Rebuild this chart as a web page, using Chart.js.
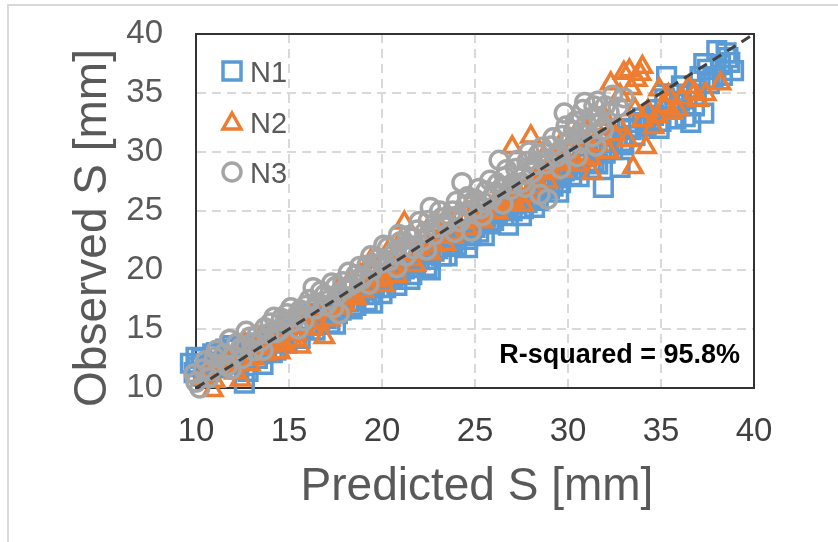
<!DOCTYPE html>
<html><head><meta charset="utf-8">
<script src="https://cdn.jsdelivr.net/npm/chart.js@4.4.0/dist/chart.umd.min.js"></script>
<style>html,body{margin:0;padding:0;background:#fff;overflow:hidden}</style>
</head><body>
<canvas id="c" width="838" height="542"></canvas>
<script>
const seriesNames = ['N1', 'N2', 'N3'];
const axisMin = 10, axisMax = 40, tickStep = 5;
const xTitle = 'Predicted S [mm]';
const yTitle = 'Observed S [mm]';
const rSquaredLabel = 'R-squared = 95.8%';
const referenceLine = [[10, 10], [40, 40]];

const n1Points = [[9.7,12.1],[9.9,11.3],[10.1,11.8],[10.3,12.5],[10.6,11.4],[10.9,12.9],[11.2,12.2],[11.6,13.3],[12.0,12.6],[12.3,11.6],[12.6,10.4],[12.9,13.4],[13.3,12.5],[13.6,12.0],[13.9,14.4],[14.3,13.2],[14.7,14.0],[15.1,15.7],[15.4,14.3],[15.8,15.0],[16.2,16.3],[16.6,15.4],[17.0,15.9],[17.4,16.9],[17.8,16.6],[18.2,17.3],[18.6,17.0],[19.0,18.3],[19.4,17.9],[19.8,19.1],[20.2,18.5],[20.6,19.5],[21.0,19.9],[21.4,20.5],[21.8,20.2],[22.2,21.3],[22.6,20.9],[23.0,21.8],[23.4,22.4],[23.8,22.0],[24.2,23.0],[24.6,22.6],[25.0,23.6],[25.4,24.2],[25.8,23.9],[26.2,24.8],[26.6,25.3],[27.0,25.0],[27.4,26.0],[27.8,25.7],[28.2,26.6],[28.6,27.2],[29.0,26.9],[29.4,27.8],[29.8,28.4],[30.2,28.0],[30.6,29.0],[31.0,29.6],[31.4,29.2],[31.9,27.0],[31.8,30.2],[32.2,30.8],[32.8,28.7],[32.6,31.3],[33.0,30.6],[33.4,31.9],[33.8,32.5],[34.2,32.2],[34.6,33.1],[35.0,32.6],[35.3,36.4],[35.5,33.7],[36.0,34.3],[36.3,33.0],[36.6,32.5],[36.9,35.3],[37.3,33.3],[37.3,37.5],[37.6,35.8],[38.0,38.6],[38.3,36.5],[38.5,38.4],[38.9,36.9],[38.7,37.6],
[10.0,12.6],[10.4,11.0],[10.8,11.9],[11.1,13.0],[11.4,11.7],[11.9,13.6],[12.2,12.1],[12.5,13.5],[12.8,11.4],[13.1,13.8],[13.5,12.9],[13.8,13.4],[14.1,13.0],[14.5,14.8],[14.9,13.8],[15.2,14.9],[15.6,14.2],[16.0,15.4],[16.4,14.9],[16.8,16.2],[17.2,15.5],[17.6,16.3],[18.0,17.5],[18.4,16.7],[18.8,18.0],[19.2,17.4],[19.6,18.5],[20.0,18.0],[20.4,19.2],[20.8,18.7],[21.2,20.1],[21.6,19.6],[22.0,20.9],[22.4,20.3],[22.8,21.6],[23.2,21.2],[23.6,22.7],[24.0,22.1],[24.4,23.3],[24.8,22.9],[25.2,23.2],[25.6,24.5],[26.0,24.2],[26.4,25.1],[26.8,24.6],[27.2,25.6],[27.6,25.2],[28.0,26.1],[28.4,25.9],[28.8,27.5],[29.2,27.1],[29.6,27.4],[30.0,28.7],[30.4,28.5],[30.8,29.8],[31.2,28.6],[31.6,29.0],[32.0,29.9],[32.4,30.2],[32.9,30.9],[33.2,32.0],[33.6,31.4],[34.0,32.9],[34.4,32.7],[34.8,33.6],[35.2,34.5],[35.7,34.9],[36.1,35.6],[36.4,34.8],[36.8,33.9],[37.1,36.4],[37.5,37.0],[37.8,36.2],[38.2,37.4],[38.6,38.0],[35.8,32.8],[34.9,32.0],
[17.5,15.4],[19.5,17.2],[21.5,19.2],[22.6,20.0],[23.5,21.2],[24.6,21.9],[25.5,22.9],[26.8,23.8],[27.5,24.6],[28.2,25.3],[29.5,26.6],[30.6,27.9]];

const n2Points = [[10.3,10.8],[10.9,9.8],[11.3,11.6],[11.8,12.4],[12.4,10.7],[12.6,13.8],[13.1,12.5],[13.5,14.3],[14.0,13.6],[14.5,13.0],[14.9,15.4],[15.4,14.6],[15.6,13.5],[16.1,16.3],[16.6,15.5],[16.9,14.3],[17.4,17.0],[17.8,16.8],[18.2,18.9],[18.6,17.6],[19.0,18.2],[19.4,20.8],[19.7,19.1],[20.1,18.7],[20.5,20.6],[20.8,19.5],[21.2,24.0],[21.4,21.3],[21.8,20.4],[22.2,22.6],[22.6,21.4],[23.0,23.8],[23.4,22.2],[23.8,22.8],[24.2,24.6],[24.6,23.5],[25.0,25.2],[25.4,24.1],[25.8,26.4],[26.2,24.9],[26.6,26.0],[27.0,30.4],[27.1,25.8],[27.4,28.0],[27.8,26.3],[28.0,31.3],[28.3,27.6],[28.7,29.6],[29.1,28.2],[29.5,30.4],[29.9,29.0],[30.3,31.2],[30.7,29.6],[31.0,31.8],[31.3,28.2],[31.6,30.6],[32.0,32.8],[32.3,35.8],[32.5,31.5],[33.0,36.7],[33.3,36.9],[33.5,28.7],[33.7,36.1],[34.0,37.2],[34.0,32.7],[34.2,30.4],[34.6,32.1],[34.9,35.3],[35.2,33.9],[35.6,33.3],[36.1,34.6],[36.5,35.5],[37.0,34.4],[37.4,34.9],[38.2,35.8],
[10.6,11.3],[11.0,10.6],[11.6,12.0],[12.1,11.3],[12.9,12.0],[13.3,13.4],[13.8,12.9],[14.3,14.1],[14.7,13.7],[15.2,14.0],[15.8,15.2],[16.3,15.0],[16.8,16.5],[17.2,15.8],[17.6,18.3],[18.0,17.1],[18.4,17.9],[18.8,19.6],[19.2,18.6],[19.6,19.8],[20.0,19.3],[20.3,21.5],[20.7,20.1],[21.0,22.4],[21.6,20.9],[22.0,21.8],[22.4,23.3],[22.8,22.1],[23.2,22.9],[23.6,24.4],[24.0,23.1],[24.4,24.0],[24.8,25.8],[25.2,24.6],[25.6,25.0],[26.0,25.5],[26.4,27.1],[26.8,25.6],[27.2,26.9],[27.6,25.5],[28.1,27.0],[28.5,28.3],[28.9,27.5],[29.3,29.3],[29.7,28.4],[30.1,30.1],[30.5,28.9],[30.9,30.6],[31.2,29.5],[31.8,31.2],[32.2,30.0],[32.7,32.3],[33.2,31.0],[33.6,33.6],[34.3,33.5],[34.8,33.0],[35.4,34.8],[35.9,33.6],[36.8,35.0],[33.4,35.4],[32.8,34.8],[33.9,36.6]];

const n3Points = [[9.9,11.2],[10.0,10.5],[10.2,10.0],[10.4,11.6],[10.7,10.9],[11.1,13.2],[11.3,12.0],[11.8,14.1],[12.0,12.7],[12.4,13.4],[12.7,14.8],[13.0,13.8],[13.3,14.5],[13.7,15.1],[14.0,15.5],[14.3,14.7],[14.6,15.9],[14.9,16.3],[15.2,15.6],[15.6,16.6],[15.9,17.0],[16.3,18.5],[16.5,17.2],[16.9,17.9],[17.2,17.5],[17.5,18.6],[17.7,16.3],[17.9,19.0],[18.3,18.7],[18.6,19.6],[18.9,19.2],[19.2,20.4],[19.5,20.0],[19.8,21.0],[20.1,22.1],[20.4,20.8],[20.7,21.6],[21.0,22.4],[21.3,21.2],[21.6,22.7],[21.9,23.4],[22.2,22.5],[22.6,25.3],[22.9,23.6],[23.2,24.4],[23.5,23.9],[23.8,25.0],[24.1,24.6],[24.3,27.4],[24.5,25.5],[24.8,23.3],[25.0,26.0],[25.3,25.2],[25.6,26.7],[25.9,26.1],[26.2,27.3],[26.3,29.3],[26.6,27.9],[26.9,26.8],[27.2,28.6],[27.5,27.4],[27.8,29.2],[28.1,28.3],[28.4,29.8],[28.5,26.4],[28.8,29.0],[28.9,26.0],[29.1,30.5],[29.4,29.6],[29.7,31.4],[29.8,33.3],[30.0,30.2],[30.3,31.8],[30.6,30.8],[30.8,33.6],[31.0,32.4],[31.3,31.3],[31.6,34.3],[31.6,33.0],[31.9,31.9],[32.2,33.4],[33.0,34.6],
[10.5,12.3],[10.8,11.5],[11.0,12.6],[11.5,12.9],[11.7,11.9],[12.2,13.8],[12.5,12.5],[12.9,14.3],[13.1,13.2],[13.5,14.0],[13.9,14.6],[14.2,16.0],[14.5,14.9],[14.8,15.6],[15.1,16.8],[15.4,16.1],[15.8,15.7],[16.1,17.5],[16.4,16.7],[16.7,18.2],[17.0,17.0],[17.3,18.9],[17.6,17.9],[18.0,18.4],[18.2,19.8],[18.5,18.9],[18.8,20.3],[19.0,19.5],[19.4,21.2],[19.7,20.5],[20.0,20.6],[20.3,21.9],[20.6,21.3],[20.9,23.0],[21.1,21.9],[21.4,22.9],[21.7,21.8],[22.0,24.1],[22.3,23.2],[22.5,24.2],[22.8,23.0],[23.1,25.0],[23.4,24.0],[23.7,24.5],[24.0,25.8],[24.2,24.1],[24.6,26.2],[24.9,25.1],[25.2,26.9],[25.5,25.7],[25.8,27.6],[26.0,26.4],[26.4,26.9],[26.7,28.5],[27.0,27.3],[27.3,29.3],[27.6,28.1],[27.9,30.0],[28.2,28.9],[28.6,30.4],[28.9,29.4],[29.2,31.2],[29.5,30.0],[29.9,32.2],[30.1,31.0],[30.4,32.6],[30.7,31.6],[30.9,34.2],[31.2,32.9],[31.4,33.9],[31.7,32.4],[32.0,33.9],[32.4,34.8],[32.7,33.8],[31.5,30.5],[30.5,29.6],[29.6,28.6],[27.7,27.0],[26.5,25.6],[25.4,24.6],[23.9,23.2],[22.4,21.7],[20.8,20.2],[19.3,18.8],[17.4,16.8],[15.5,15.0],[13.6,13.2],[11.9,11.6]];

const seriesPoints = [n1Points, n2Points, n3Points];
const seriesColors = ['#5B9BD5', '#ED7D31', '#A5A5A5'];
const seriesStyles = ['rect', 'triangle', 'circle'];
const seriesRadius = [12.5, 10.5, 9];
const FONT = "'Liberation Sans', Arial, sans-serif";

const toXY = arr => arr.map(p => ({x: p[0], y: p[1]}));

const datasets = [{
  type: 'line', label: 'ref', data: toXY(referenceLine),
  borderColor: '#404040', borderWidth: 3, borderDash: [10, 7],
  pointRadius: 0, fill: false, order: 0, clip: false
}];
seriesNames.forEach((n, i) => {
  datasets.push({
    type: 'scatter', label: n, data: toXY(seriesPoints[i]),
    pointStyle: seriesStyles[i], pointRadius: seriesRadius[i],
    pointBorderWidth: 3.5, borderColor: seriesColors[i],
    backgroundColor: 'rgba(0,0,0,0)', order: 3 - i, clip: false
  });
});

const decor = {
  id: 'decor',
  beforeDatasetsDraw(chart) {
    const {ctx, chartArea: a} = chart;
    ctx.save();
    ctx.strokeStyle = '#333333'; ctx.lineWidth = 2;
    ctx.beginPath();
    ctx.moveTo(a.left, a.top); ctx.lineTo(a.right, a.top); ctx.lineTo(a.right, a.bottom);
    ctx.stroke();
    ctx.restore();
  },
  afterDraw(chart) {
    const {ctx} = chart;
    ctx.save();
    ctx.strokeStyle = '#d9d9d9'; ctx.lineWidth = 2;
    ctx.beginPath(); ctx.moveTo(8, 542); ctx.lineTo(8, 5); ctx.lineTo(838, 5); ctx.stroke();
    const ly = [71, 122, 172];
    seriesNames.forEach((n, i) => {
      const cx = 232, cy = ly[i];
      ctx.strokeStyle = seriesColors[i]; ctx.lineWidth = 3.5;
      ctx.beginPath();
      if (i === 0) ctx.rect(cx - 9, cy - 9, 18, 18);
      else if (i === 1) { ctx.moveTo(cx, cy - 9); ctx.lineTo(cx + 9, cy + 7); ctx.lineTo(cx - 9, cy + 7); ctx.closePath(); }
      else ctx.arc(cx, cy, 9, 0, Math.PI * 2);
      ctx.stroke();
      ctx.fillStyle = '#595959'; ctx.font = '29px ' + FONT;
      ctx.textAlign = 'left'; ctx.textBaseline = 'alphabetic';
      ctx.fillText(n, 250, cy + 11);
    });
    ctx.fillStyle = '#000'; ctx.font = 'bold 27px ' + FONT;
    ctx.textAlign = 'right'; ctx.fillText(rSquaredLabel, 740, 363);
    ctx.fillStyle = '#595959'; ctx.font = '46px ' + FONT;
    ctx.textAlign = 'center'; ctx.textBaseline = 'alphabetic';
    ctx.fillText(xTitle, 477, 500);
    ctx.translate(93, 228); ctx.rotate(-Math.PI / 2);
    ctx.textBaseline = 'middle';
    ctx.fillText(yTitle, 0, 0);
    ctx.restore();
  }
};

const gridCommon = {color: '#d9d9d9', lineWidth: 2, drawTicks: false};
new Chart(document.getElementById('c'), {
  type: 'scatter',
  data: {datasets},
  options: {
    responsive: false, animation: false,
    layout: {padding: {left: 0, top: 34, right: 84, bottom: 0}},
    plugins: {legend: {display: false}, tooltip: {enabled: false}},
    scales: {
      x: {
        type: 'linear', min: axisMin, max: axisMax,
        ticks: {stepSize: tickStep, color: '#404040', font: {family: FONT, size: 33}, padding: 24, maxRotation: 0},
        grid: gridCommon,
        border: {display: true, color: '#333333', width: 2, dash: [9, 6]},
        afterFit: s => { s.height = 154; s.paddingLeft = 0; s.paddingRight = 0; }
      },
      y: {
        type: 'linear', min: axisMin, max: axisMax,
        ticks: {stepSize: tickStep, color: '#595959', font: {family: FONT, size: 33}, padding: 33},
        grid: gridCommon,
        border: {display: true, color: '#333333', width: 2, dash: [9, 6]},
        afterFit: s => { s.width = 196; s.paddingTop = 0; s.paddingBottom = 0; }
      }
    }
  },
  plugins: [decor]
});
</script>
</body></html>
